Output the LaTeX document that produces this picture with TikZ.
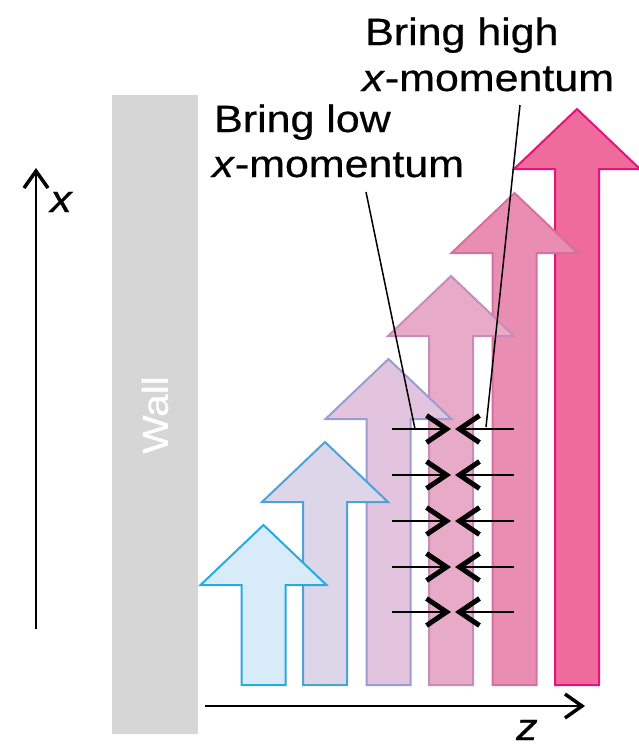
\documentclass[tikz,border=0pt]{standalone}
\usepackage{fontspec}
\setmainfont{Liberation Sans}[FakeStretch=1.13,FakeBold=0.6]
\usetikzlibrary{arrows.meta}
\definecolor{wallgray}{HTML}{D6D6D6}
\definecolor{fA}{HTML}{D7ECF8}\definecolor{sA}{HTML}{2AA9E0}
\definecolor{fB}{HTML}{DDD6E9}\definecolor{sB}{HTML}{4DA2DA}
\definecolor{fC}{HTML}{E3C4DE}\definecolor{sC}{HTML}{9A9CD2}
\definecolor{fD}{HTML}{E7ABC8}\definecolor{sD}{HTML}{C98CBA}
\definecolor{fE}{HTML}{EA8DB2}\definecolor{sE}{HTML}{D5719F}
\definecolor{fF}{HTML}{EF6B9B}\definecolor{sF}{HTML}{E5147A}
\newcommand\momarrow[4]{%
  \filldraw[fill=#3,draw=#4,line width=2pt,line join=miter]
    (#1-22,685) -- (#1-22,#2) -- (#1-63,#2) -- (#1,#2-60) -- (#1+63,#2)
    -- (#1+22,#2) -- (#1+22,685) -- cycle;}
\tikzset{
  lbl/.style={inner sep=0pt,anchor=base west,font=\fontsize{38}{46}\selectfont},
  axis/.style={line width=2pt,-{Straight Barb[length=17pt,width=24pt,line width=3.5pt]}},
  flux/.style={line width=1.8pt,-{Straight Barb[length=20pt,width=27pt,line width=5pt]}},
  leader/.style={line width=1.5pt}
}
\begin{document}
\begin{tikzpicture}[x=1pt,y=-1pt]
\useasboundingbox (0,0) rectangle (639,747);
% wall
\fill[wallgray] (112,95) rectangle (198,734);
\node[rotate=90,text=white,inner sep=0pt,font=\fontsize{36}{40}\selectfont] (wall) at (155,415) {Wall};
% axes
\coordinate (xa0) at (36,629);
\coordinate (xa1) at (36,168);
\draw[axis] (xa0) -- (xa1);
\node[lbl] (xl) at (50,212) {\textit{x}};
\coordinate (za0) at (205,706);
\coordinate (za1) at (585,706);
\draw[axis] (za0) -- (za1);
\node[lbl] (zl) at (516,740) {\textit{z}};
% big arrows (right to left so left ones lie on top)
\momarrow{577}{169}{fF}{sF}
\momarrow{514.5}{253}{fE}{sE}
\momarrow{451}{336}{fD}{sD}
\momarrow{388.5}{419}{fC}{sC}
\momarrow{325}{502}{fB}{sB}
\momarrow{263.5}{585}{fA}{sA}
% small flux arrows
\foreach \i/\y in {1/429,2/475,3/521,4/567,5/612}{
  \coordinate (la\i) at (392,\y);
  \coordinate (lb\i) at (451,\y);
  \coordinate (ra\i) at (514,\y);
  \coordinate (rb\i) at (455,\y);
  \draw[flux] (la\i) -- (lb\i);
  \draw[flux] (ra\i) -- (rb\i);
}
% labels
\node[lbl] (hi1) at (365,45) {Bring high};
\node[lbl] (hi2) at (362,91) {\textit{x}-momentum};
\node[lbl] (lo1) at (214,132) {Bring low};
\node[lbl] (lo2) at (212,177) {\textit{x}-momentum};
% leaders
\coordinate (lowA) at (366,192);
\coordinate (lowB) at (415,429);
\coordinate (hiA) at (520,105);
\coordinate (hiB) at (486,427);
\draw[leader] (lowA) -- (lowB);
\draw[leader] (hiA) -- (hiB);
\end{tikzpicture}
\end{document}
